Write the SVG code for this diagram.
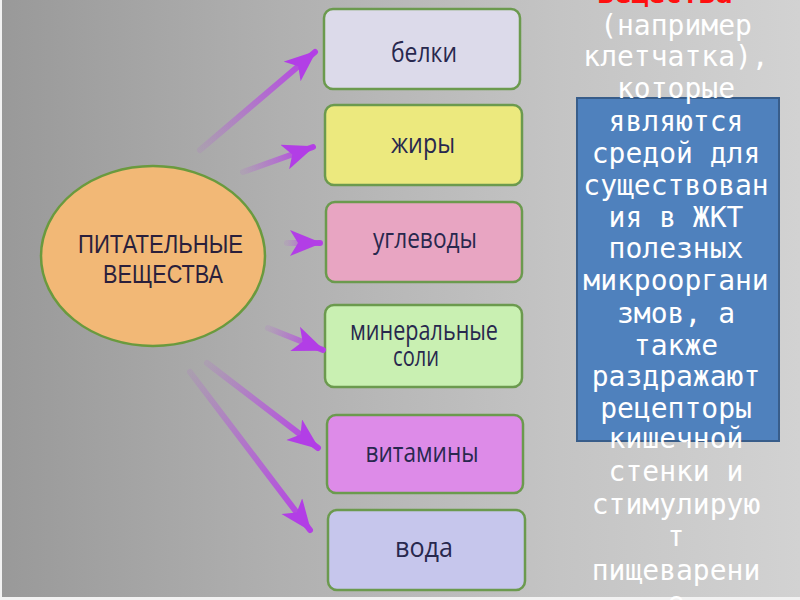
<svg xmlns="http://www.w3.org/2000/svg" width="800" height="600" viewBox="0 0 800 600">
<style>
.box{stroke:#6b9a4e;stroke-width:2.5}
.lbl{font-family:"Open Sans","Noto Sans",sans-serif;font-size:27px;fill:#28284e;text-anchor:middle}
.ell{font-family:"Liberation Sans",Arial,sans-serif;font-size:26px;fill:#2a1f3c}
.side{font-family:"DejaVu Sans Mono","Liberation Mono",monospace;font-size:28px;fill:#ffffff;text-anchor:middle}
.arr{fill:none;stroke-width:6;stroke-linecap:round}
</style>
<defs>
<linearGradient id="bg" x1="0" y1="0" x2="1" y2="0">
<stop offset="0" stop-color="#999999"/>
<stop offset="0.35" stop-color="#b0b0b0"/>
<stop offset="0.7" stop-color="#c4c4c4"/>
<stop offset="1" stop-color="#d2d2d2"/>
</linearGradient>
<marker id="head" markerUnits="userSpaceOnUse" markerWidth="36" markerHeight="30" refX="30" refY="13" orient="auto">
<path d="M0,0 L32,13 L0,26 L8,13 Z" fill="#b23ee6"/>
</marker>
<linearGradient id="g1" gradientUnits="userSpaceOnUse" x1="200" y1="150" x2="315" y2="52"><stop offset="0" stop-color="#b440e4" stop-opacity="0.1"/><stop offset="1" stop-color="#b440e4"/></linearGradient>
<linearGradient id="g2" gradientUnits="userSpaceOnUse" x1="243" y1="172" x2="313" y2="147"><stop offset="0" stop-color="#b440e4" stop-opacity="0.1"/><stop offset="1" stop-color="#b440e4"/></linearGradient>
<linearGradient id="g3" gradientUnits="userSpaceOnUse" x1="287" y1="243" x2="320" y2="243"><stop offset="0" stop-color="#b440e4" stop-opacity="0.1"/><stop offset="1" stop-color="#b440e4"/></linearGradient>
<linearGradient id="g4" gradientUnits="userSpaceOnUse" x1="268" y1="328" x2="323" y2="350"><stop offset="0" stop-color="#b440e4" stop-opacity="0.1"/><stop offset="1" stop-color="#b440e4"/></linearGradient>
<linearGradient id="g5" gradientUnits="userSpaceOnUse" x1="207" y1="363" x2="318" y2="448"><stop offset="0" stop-color="#b440e4" stop-opacity="0.1"/><stop offset="1" stop-color="#b440e4"/></linearGradient>
<linearGradient id="g6" gradientUnits="userSpaceOnUse" x1="190" y1="372" x2="310" y2="530"><stop offset="0" stop-color="#b440e4" stop-opacity="0.1"/><stop offset="1" stop-color="#b440e4"/></linearGradient>
</defs>
<rect x="0" y="0" width="800" height="600" fill="url(#bg)"/>
<rect x="0" y="0" width="2" height="600" fill="#f2f2f2"/>
<rect x="0" y="597" width="800" height="3" fill="#f2f2f2"/>

<g id="center">
<ellipse cx="153" cy="256" rx="112" ry="90" fill="#f2b876" stroke="#6a9a3e" stroke-width="2.5"/>
<text class="ell" x="78" y="253" textLength="165" lengthAdjust="spacingAndGlyphs">ПИТАТЕЛЬНЫЕ</text>
<text class="ell" x="103" y="283" textLength="120" lengthAdjust="spacingAndGlyphs">ВЕЩЕСТВА</text>
</g>

<g id="belki">
<rect class="box" x="324" y="9" width="196" height="80" rx="9" fill="#dcdaea"/>
<text class="lbl" x="424" y="62" textLength="66" lengthAdjust="spacingAndGlyphs">белки</text>
</g>
<g id="zhiry">
<rect class="box" x="325" y="105" width="197" height="80" rx="9" fill="#ece97e"/>
<text class="lbl" x="423" y="153" textLength="64" lengthAdjust="spacingAndGlyphs">жиры</text>
</g>
<g id="uglevody">
<rect class="box" x="326" y="202" width="196" height="80" rx="9" fill="#e8a5c2"/>
<text class="lbl" x="425" y="248" textLength="104" lengthAdjust="spacingAndGlyphs">углеводы</text>
</g>
<g id="mineraly">
<rect class="box" x="325" y="305" width="197" height="82" rx="9" fill="#c9f0b2"/>
<text class="lbl" x="424" y="340" textLength="148" lengthAdjust="spacingAndGlyphs">минеральные</text>
<text class="lbl" x="416" y="366" textLength="46" lengthAdjust="spacingAndGlyphs">соли</text>
</g>
<g id="vitaminy">
<rect class="box" x="327" y="415" width="196" height="78" rx="9" fill="#dd8be8"/>
<text class="lbl" x="422" y="462" textLength="113" lengthAdjust="spacingAndGlyphs">витамины</text>
</g>
<g id="voda">
<rect class="box" x="328" y="510" width="197" height="80" rx="9" fill="#c6c6ec"/>
<text class="lbl" x="424" y="557" textLength="58" lengthAdjust="spacingAndGlyphs">вода</text>
</g>

<g id="connectors">
<line class="arr" x1="200" y1="150" x2="315" y2="52" stroke="url(#g1)" marker-end="url(#head)"/>
<line class="arr" x1="243" y1="172" x2="313" y2="147" stroke="url(#g2)" marker-end="url(#head)"/>
<line class="arr" x1="287" y1="243" x2="320" y2="243" stroke="url(#g3)" marker-end="url(#head)"/>
<line class="arr" x1="268" y1="328" x2="323" y2="350" stroke="url(#g4)" marker-end="url(#head)"/>
<line class="arr" x1="207" y1="363" x2="318" y2="448" stroke="url(#g5)" marker-end="url(#head)"/>
<line class="arr" x1="190" y1="372" x2="310" y2="530" stroke="url(#g6)" marker-end="url(#head)"/>
</g>

<g id="note">
<rect x="577" y="98" width="202" height="343" fill="#4f81bd" stroke="#385d8a" stroke-width="2"/>
<text class="side" x="665" y="3" style="fill:#ff1010;font-weight:bold">вещества</text>
<text class="side" x="676" y="35">(например</text>
<text class="side" x="676" y="66">клетчатка),</text>
<text class="side" x="676" y="98">которые</text>
<text class="side" x="676" y="131">являются</text>
<text class="side" x="676" y="163">средой для</text>
<text class="side" x="676" y="195">существован</text>
<text class="side" x="676" y="227">ия в ЖКТ</text>
<text class="side" x="676" y="258">полезных</text>
<text class="side" x="676" y="290">микрооргани</text>
<text class="side" x="676" y="323">змов, а</text>
<text class="side" x="676" y="355">также</text>
<text class="side" x="676" y="386">раздражают</text>
<text class="side" x="676" y="418">рецепторы</text>
<text class="side" x="676" y="448">кишечной</text>
<text class="side" x="676" y="481">стенки и</text>
<text class="side" x="676" y="514">стимулирую</text>
<text class="side" x="676" y="546">т</text>
<text class="side" x="676" y="580">пищеварени</text>
<text class="side" x="676" y="612">е</text>
</g>
</svg>
